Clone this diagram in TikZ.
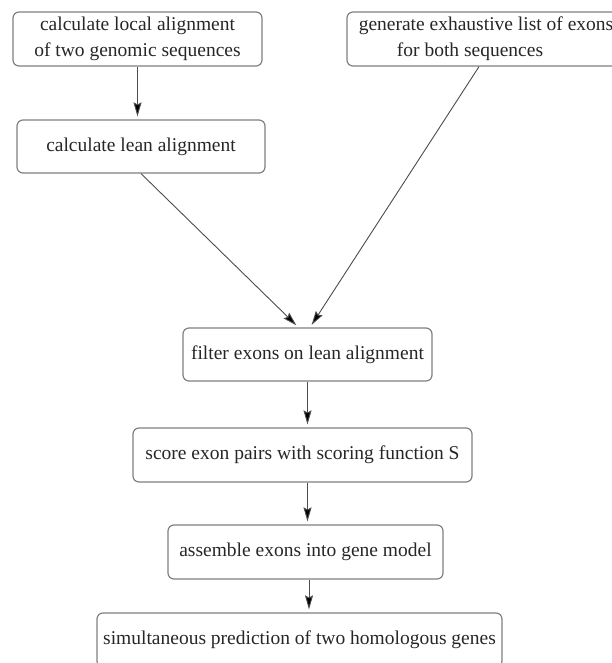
\documentclass[tikz,border=0pt]{standalone}
\usepackage{fontspec}
\setmainfont{Liberation Serif}
\usetikzlibrary{arrows.meta}
\begin{document}
\begin{tikzpicture}[x=1pt,y=-1pt,
  stepbox/.style={draw=black!50, line width=1.2pt, rounded corners=6pt, align=center,
    inner sep=0pt, font=\fontsize{19.5}{26}\selectfont, text=black!85},
  flow/.style={draw=black!70, line width=0.9pt, shorten >=3pt,
    -{Stealth[length=14pt,width=8pt,inset=2pt,fill=black]}}]
\useasboundingbox (0,0) rectangle (612,663);
\clip (0,0) rectangle (612,663);
\node[stepbox, minimum width=249pt, minimum height=54pt] (b1) at (137.5,39)
  {calculate local alignment\\of two genomic sequences};
\node[stepbox, minimum width=278pt, minimum height=54pt] (b2) at (486,39)
  {generate exhaustive list of exons\\for both sequences\hspace*{32pt}};
\node[stepbox, minimum width=248pt, minimum height=53pt] (b3) at (141,146.5)
  {calculate lean alignment};
\node[stepbox, minimum width=249pt, minimum height=53pt] (b4) at (307.5,354.5)
  {filter exons on lean alignment};
\node[stepbox, minimum width=339pt, minimum height=54pt] (b5) at (302.5,455)
  {score exon pairs with scoring function S};
\node[stepbox, minimum width=275pt, minimum height=54pt] (b6) at (305.5,552)
  {assemble exons into gene model};
\node[stepbox, minimum width=405pt, minimum height=54pt] (b7) at (299.5,640)
  {simultaneous prediction of two homologous genes};
\draw[flow] (b1.south) -- (b3.north -| b1.south);
\draw[flow] (b3.south) -- ([xshift=-9pt]b4.north);
\draw[flow] ([xshift=-7pt]b2.south) -- ([xshift=2.5pt]b4.north);
\draw[flow] (b4.south) -- (b5.north -| b4.south);
\draw[flow] (b4.south |- b5.south) -- (b6.north -| b4.south);
\draw[flow] ([xshift=3.5pt]b6.south) -- ([xshift=3.5pt]b6.south |- b7.north);
\end{tikzpicture}
\end{document}
